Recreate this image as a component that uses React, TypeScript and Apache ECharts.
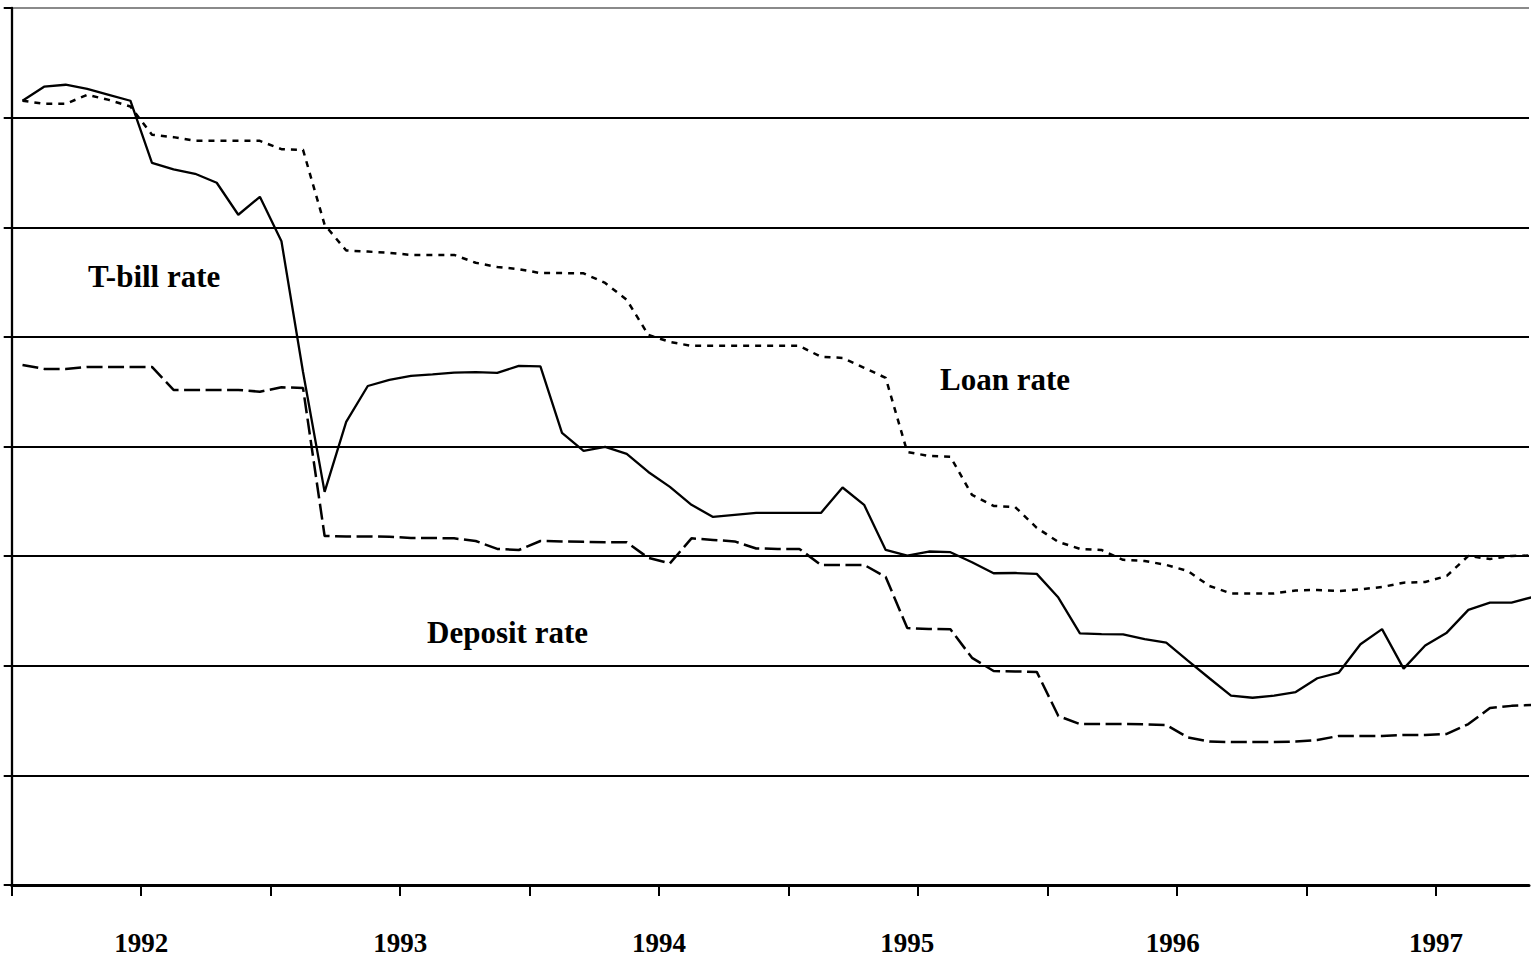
import React, { useEffect, useRef } from "react";
import * as echarts from "echarts";

// Monthly observations, index 0 = Jul 1991 ... index 70 = May 1997
const tbillRate = [
  35.77, 36.41, 36.5, 36.31, 36.04, 35.77, 32.94, 32.64, 32.44, 32.03,
  30.57, 31.39, 29.36, 23.4, 17.93, 21.12, 22.76, 23.04, 23.22, 23.29,
  23.37, 23.39, 23.36, 23.68, 23.65, 20.62, 19.8, 19.98, 19.66, 18.84,
  18.16, 17.34, 16.79, 16.88, 16.97, 16.97, 16.97, 16.97, 18.13, 17.34,
  15.28, 15.02, 15.21, 15.18, 14.72, 14.22, 14.23, 14.19, 13.11, 11.48,
  11.44, 11.43, 11.21, 11.05, 10.23, 9.43, 8.64, 8.54, 8.64, 8.8,
  9.43, 9.69, 10.98, 11.67, 9.87, 10.92, 11.51, 12.55, 12.88, 12.88,
  13.14,
];

const loanRate = [
  35.77, 35.63, 35.63, 36.04, 35.81, 35.51, 34.22, 34.11, 33.94, 33.94,
  33.94, 33.94, 33.56, 33.53, 30.11, 28.94, 28.89, 28.83, 28.74, 28.74,
  28.74, 28.38, 28.19, 28.09, 27.91, 27.91, 27.9, 27.46, 26.69, 25.09,
  24.77, 24.59, 24.59, 24.59, 24.59, 24.59, 24.59, 24.09, 24.04, 23.59,
  23.13, 19.75, 19.57, 19.53, 17.79, 17.29, 17.24, 16.29, 15.65, 15.33,
  15.28, 14.83, 14.78, 14.6, 14.32, 13.64, 13.3, 13.3, 13.3, 13.43,
  13.46, 13.41, 13.49, 13.59, 13.79, 13.82, 14.1, 15.01, 14.87, 15.01,
  15.03,
];

const depositRate = [
  23.72, 23.54, 23.54, 23.63, 23.63, 23.63, 23.63, 22.58, 22.58, 22.58,
  22.58, 22.5, 22.7, 22.67, 15.92, 15.9, 15.9, 15.88, 15.83, 15.83,
  15.81, 15.69, 15.33, 15.28, 15.69, 15.67, 15.65, 15.63, 15.63, 14.92,
  14.67, 15.81, 15.74, 15.67, 15.35, 15.33, 15.33, 14.6, 14.6, 14.6,
  14.05, 11.72, 11.68, 11.66, 10.36, 9.76, 9.74, 9.72, 7.71, 7.34,
  7.34, 7.34, 7.33, 7.3, 6.73, 6.54, 6.52, 6.52, 6.52, 6.54,
  6.61, 6.8, 6.8, 6.8, 6.84, 6.84, 6.89, 7.34, 8.07, 8.17,
  8.21,
];

const yearLabels = ["1992", "1993", "1994", "1995", "1996", "1997"];
const yearLabelPositions = [5.5, 17.5, 29.5, 41, 53.3, 65.5];
const tickPositions = [-0.5, 5.5, 11.5, 17.5, 23.5, 29.5, 35.5, 41.5, 47.5, 53.5, 59.5, 65.5];

const seriesNames = ["T-bill rate", "Loan rate", "Deposit rate"];

const toPairs = (arr: number[]) => arr.map((v, i) => [i, v]);

const FONT = '"Liberation Serif", "Times New Roman", serif';

export default function App() {
  const ref = useRef<HTMLDivElement>(null);

  useEffect(() => {
    if (!ref.current) return;
    const chart = echarts.init(ref.current, null, { renderer: "svg" });
    const gridColors = ["#000", "#000", "#000", "#000", "#000", "#000", "#000", "#000", "#8a8a8a"];
    chart.setOption({
      animation: false,
      backgroundColor: "#ffffff",
      grid: { left: 11.7, right: 10, top: 8, bottom: 79, containLabel: false },
      xAxis: {
        type: "value",
        min: -0.5,
        max: 69.81,
        axisLine: { show: true, onZero: false, lineStyle: { color: "#000", width: 3 } },
        axisTick: {
          show: true,
          customValues: tickPositions,
          length: 11,
          lineStyle: { color: "#000", width: 2 },
        },
        axisLabel: {
          show: true,
          customValues: yearLabelPositions,
          formatter: (v: number) => {
            const idx = yearLabelPositions.findIndex((p) => Math.abs(p - v) < 0.01);
            return idx >= 0 ? yearLabels[idx] : "";
          },
          margin: 44,
          fontFamily: FONT,
          fontWeight: "bold",
          fontSize: 27,
          color: "#000",
        },
        splitLine: { show: false },
      },
      yAxis: {
        type: "value",
        min: 0,
        max: 40,
        interval: 5,
        axisLine: { show: true, onZero: false, lineStyle: { color: "#000", width: 2.3 } },
        axisTick: { show: true, length: 8, lineStyle: { color: "#000", width: 2 } },
        axisLabel: { show: false },
        splitLine: { show: true, lineStyle: { color: gridColors, width: 2 } },
      },
      graphic: [
        {
          type: "text",
          x: 88,
          y: 276,
          style: {
            text: "T-bill rate",
            fontFamily: FONT,
            fontWeight: "bold",
            fontSize: 31,
            fill: "#000",
            align: "left",
            verticalAlign: "middle",
          },
        },
        {
          type: "text",
          x: 940,
          y: 379,
          style: {
            text: "Loan rate",
            fontFamily: FONT,
            fontWeight: "bold",
            fontSize: 31,
            fill: "#000",
            align: "left",
            verticalAlign: "middle",
          },
        },
        {
          type: "text",
          x: 427,
          y: 632,
          style: {
            text: "Deposit rate",
            fontFamily: FONT,
            fontWeight: "bold",
            fontSize: 31,
            fill: "#000",
            align: "left",
            verticalAlign: "middle",
          },
        },
      ],
      series: [
        {
          name: seriesNames[0],
          type: "line",
          data: toPairs(tbillRate),
          symbol: "none",
          clip: true,
          lineStyle: { color: "#000", width: 2.3, type: "solid" },
        },
        {
          name: seriesNames[1],
          type: "line",
          data: toPairs(loanRate),
          symbol: "none",
          clip: true,
          lineStyle: { color: "#000", width: 2.5, type: [6, 6] },
        },
        {
          name: seriesNames[2],
          type: "line",
          data: toPairs(depositRate),
          symbol: "none",
          clip: true,
          lineStyle: { color: "#000", width: 2.5, type: [16, 5.5] },
        },
      ],
    });
    return () => chart.dispose();
  }, []);

  return (
    <div
      ref={ref}
      style={{ position: "absolute", left: 0, top: 0, width: 1539, height: 964, background: "#fff" }}
    />
  );
}
